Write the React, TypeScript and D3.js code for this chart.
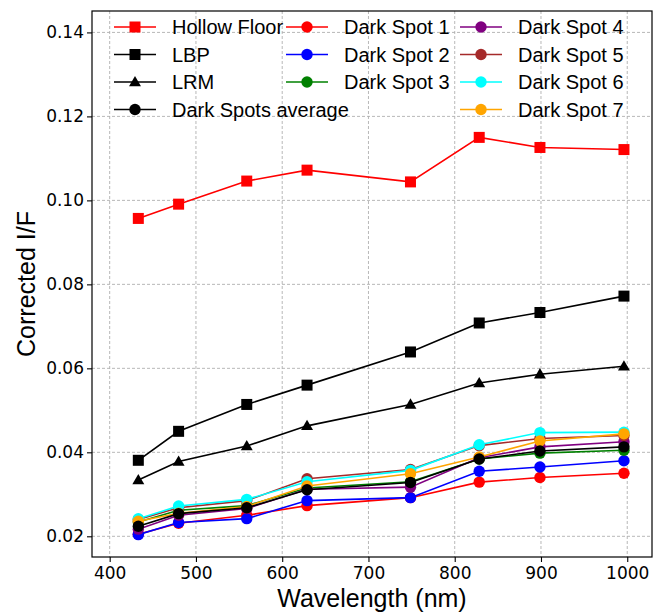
import React, { useEffect, useRef } from "react";
import * as d3 from "d3";

// MDIS WAC filter centres (nm)
const wavelengths = [433.2, 479.9, 558.9, 628.8, 748.7, 828.4, 898.8, 996.2];

const hollowFloor = [0.0957, 0.0991, 0.1046, 0.1072, 0.1044, 0.1150, 0.1126, 0.1121];
const lbp = [0.0381, 0.0450, 0.0514, 0.0560, 0.0639, 0.0708, 0.0733, 0.0772];
const lrm = [0.0334, 0.0378, 0.0415, 0.0463, 0.0514, 0.0565, 0.0586, 0.0605];
const darkAvg = [0.0224, 0.0254, 0.0268, 0.0311, 0.0328, 0.0384, 0.0403, 0.0413];

const ds1 = [0.0205, 0.0231, 0.0250, 0.0273, 0.0292, 0.0329, 0.0340, 0.0350];
const ds2 = [0.0204, 0.0233, 0.0242, 0.0285, 0.0292, 0.0355, 0.0365, 0.0380];
const ds3 = [0.0234, 0.0262, 0.0273, 0.0315, 0.0330, 0.0384, 0.0398, 0.0405];
const ds4 = [0.0217, 0.0250, 0.0266, 0.0312, 0.0317, 0.0387, 0.0413, 0.0425];
const ds5 = [0.0240, 0.0268, 0.0285, 0.0337, 0.0359, 0.0416, 0.0433, 0.0440];
const ds6 = [0.0242, 0.0272, 0.0288, 0.0330, 0.0357, 0.0418, 0.0447, 0.0448];
const ds7 = [0.0236, 0.0255, 0.0271, 0.0320, 0.0349, 0.0389, 0.0427, 0.0444];

const xTicks = [400, 500, 600, 700, 800, 900, 1000];
const yTicks = [0.02, 0.04, 0.06, 0.08, 0.1, 0.12, 0.14];

type Series = { name: string; values: number[]; color: string; marker: "square" | "triangle" | "circle" };

const seriesList: Series[] = [
  { name: "Hollow Floor", values: hollowFloor, color: "red", marker: "square" },
  { name: "LBP", values: lbp, color: "black", marker: "square" },
  { name: "LRM", values: lrm, color: "black", marker: "triangle" },
  { name: "Dark Spots average", values: darkAvg, color: "black", marker: "circle" },
  { name: "Dark Spot 1", values: ds1, color: "red", marker: "circle" },
  { name: "Dark Spot 2", values: ds2, color: "blue", marker: "circle" },
  { name: "Dark Spot 3", values: ds3, color: "green", marker: "circle" },
  { name: "Dark Spot 4", values: ds4, color: "purple", marker: "circle" },
  { name: "Dark Spot 5", values: ds5, color: "brown", marker: "circle" },
  { name: "Dark Spot 6", values: ds6, color: "cyan", marker: "circle" },
  { name: "Dark Spot 7", values: ds7, color: "orange", marker: "circle" },
];

// draw order: spots first, average on top
const drawOrder = [0, 1, 2, 4, 5, 6, 7, 8, 9, 10, 3];
// legend columns
const legendCols = [[0, 1, 2, 3], [4, 5, 6], [7, 8, 9, 10]];

const width = 654;
const height = 612;
const margin = { top: 11, left: 92, right: 2, bottom: 55 };

const drawMarker = (g: any, kind: string, x: number, y: number, color: string) => {
  if (kind === "square") {
    g.append("rect").attr("x", x - 5.5).attr("y", y - 5.5).attr("width", 11).attr("height", 11).attr("fill", color);
  } else if (kind === "triangle") {
    g.append("path")
      .attr("d", d3.symbol(d3.symbolTriangle, 62)())
      .attr("transform", `translate(${x},${y + 0.8})`)
      .attr("fill", color);
  } else {
    g.append("circle").attr("cx", x).attr("cy", y).attr("r", 5.7).attr("fill", color);
  }
};

const Chart = () => {
  const ref = useRef<SVGSVGElement>(null);

  useEffect(() => {
    const svg = d3.select(ref.current);
    svg.selectAll("*").remove();

    const iw = width - margin.left - margin.right;
    const ih = height - margin.top - margin.bottom;

    const x = d3.scaleLinear().domain([379.5, 1028.7]).range([0, iw]);
    const y = d3.scaleLinear().domain([0.01507, 0.1451]).range([ih, 0]);

    const g = svg.append("g").attr("transform", `translate(${margin.left},${margin.top})`);

    // grid
    const grid = g.append("g").attr("stroke", "#b0b0b0").attr("stroke-width", 0.9).attr("stroke-dasharray", "3,2");
    xTicks.forEach((t) => {
      grid.append("line").attr("x1", x(t)).attr("x2", x(t)).attr("y1", 0).attr("y2", ih);
    });
    yTicks.forEach((t) => {
      grid.append("line").attr("x1", 0).attr("x2", iw).attr("y1", y(t)).attr("y2", y(t));
    });

    // series
    const line = d3
      .line<number>()
      .x((_, i) => x(wavelengths[i]))
      .y((d) => y(d));

    drawOrder.forEach((idx) => {
      const s = seriesList[idx];
      const sg = g.append("g");
      sg.append("path")
        .attr("d", line(s.values))
        .attr("fill", "none")
        .attr("stroke", s.color)
        .attr("stroke-width", 1.6);
      s.values.forEach((v, i) => drawMarker(sg, s.marker, x(wavelengths[i]), y(v), s.color));
    });

    // axes
    const xAxis = g
      .append("g")
      .attr("transform", `translate(0,${ih})`)
      .call(d3.axisBottom(x).tickValues(xTicks).tickFormat(d3.format("d")).tickSize(5).tickSizeOuter(0));
    const yAxis = g
      .append("g")
      .call(d3.axisLeft(y).tickValues(yTicks).tickFormat(d3.format(".2f")).tickSize(5).tickSizeOuter(0));

    [xAxis, yAxis].forEach((a) => {
      a.select(".domain").remove();
      a.selectAll("line").attr("stroke", "black").attr("stroke-width", 1.1);
      a.selectAll("text")
        .attr("fill", "black")
        .style("font-family", "DejaVu Sans")
        .style("font-size", "17px");
    });
    xAxis.selectAll("text").attr("dy", "0.95em").attr("y", 6);
    yAxis.selectAll("text").attr("x", -8);

    g.append("rect")
      .attr("width", iw)
      .attr("height", ih)
      .attr("fill", "none")
      .attr("stroke", "black")
      .attr("stroke-width", 1.2);

    // axis labels
    svg.append("text")
      .attr("x", margin.left + iw / 2)
      .attr("y", 607)
      .attr("text-anchor", "middle")
      .style("font-family", "Liberation Sans, Arial")
      .style("font-size", "25px")
      .text("Wavelength (nm)");
    svg.append("text")
      .attr("transform", `translate(35,${margin.top + ih / 2}) rotate(-90)`)
      .attr("text-anchor", "middle")
      .style("font-family", "Liberation Sans, Arial")
      .style("font-size", "25px")
      .text("Corrected I/F");

    // legend
    const colX = [114, 286, 460];
    const rowY = [27, 54.5, 82, 109.5];
    const leg = svg.append("g");
    legendCols.forEach((col, ci) => {
      col.forEach((idx, ri) => {
        const s = seriesList[idx];
        const lx = colX[ci];
        const ly = rowY[ri];
        leg.append("line")
          .attr("x1", lx).attr("x2", lx + 42)
          .attr("y1", ly).attr("y2", ly)
          .attr("stroke", s.color).attr("stroke-width", 1.6);
        drawMarker(leg, s.marker, lx + 21, ly, s.color);
        leg.append("text")
          .attr("x", lx + 58)
          .attr("y", ly + 7)
          .style("font-family", "Liberation Sans, Arial")
          .style("font-size", "20px")
          .text(s.name);
      });
    });
  }, []);

  return <svg ref={ref} width={width} height={height} style={{ position: "absolute", left: 0, top: 0, background: "white" }} />;
};

export default function App() {
  return <Chart />;
}
